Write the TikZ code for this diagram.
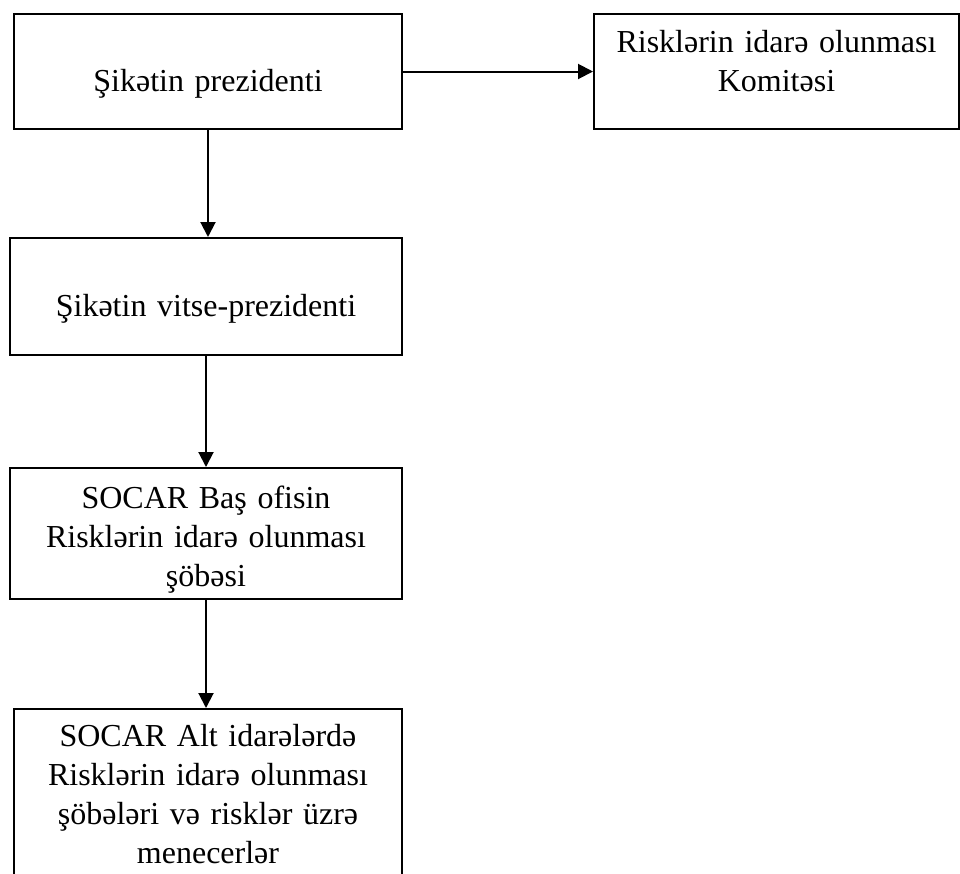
\documentclass[tikz,border=0pt]{standalone}
\usepackage{fontspec}
\setmainfont{Liberation Serif}
\usetikzlibrary{positioning}
\usetikzlibrary{arrows.meta}
\tikzstyle{orgbox}=[draw=black, line width=1pt, inner sep=0pt, anchor=north west, align=center, font=\fontsize{16}{19.5}\selectfont]
\tikzstyle{link}=[-{Triangle[width=7.5pt,length=7.5pt]}, line width=1pt]

\begin{document}
\begin{tikzpicture}[x=0.5pt, y=-0.5pt]
\useasboundingbox (0,0) rectangle (960,874);

%Top row
\node[orgbox, text width=194pt, text height=38.5pt, text depth=19pt] (pres) at (13,13) {Şikətin prezidenti};
\node[orgbox, text width=182.5pt, text height=19pt, text depth=38.5pt] (kom) at (593,13) {Risklərin idarə olunması\\Komitəsi};

%Chain down
\node[orgbox, text width=196pt, text height=39pt, text depth=19.5pt] (vice) at (9,237) {Şikətin vitse-prezidenti};
\node[orgbox, text width=196pt, text height=20pt, text depth=45.5pt] (bas) at (9,467) {SOCAR Baş ofisin\\Risklərin idarə olunması\\şöbəsi};
\node[orgbox, text width=194pt, text height=18.5pt, text depth=68pt] (alt) at (13,708) {SOCAR Alt idarələrdə\\Risklərin idarə olunması\\şöbələri və risklər üzrə\\menecerlər};

%Arrows
\draw[link] (pres.east) -- (kom.west);
\foreach \source/\dest in {pres/vice, vice/bas, bas/alt}
    \draw[link] (\source.south) -- (\source.south |- \dest.north);

\end{tikzpicture}
\end{document}
